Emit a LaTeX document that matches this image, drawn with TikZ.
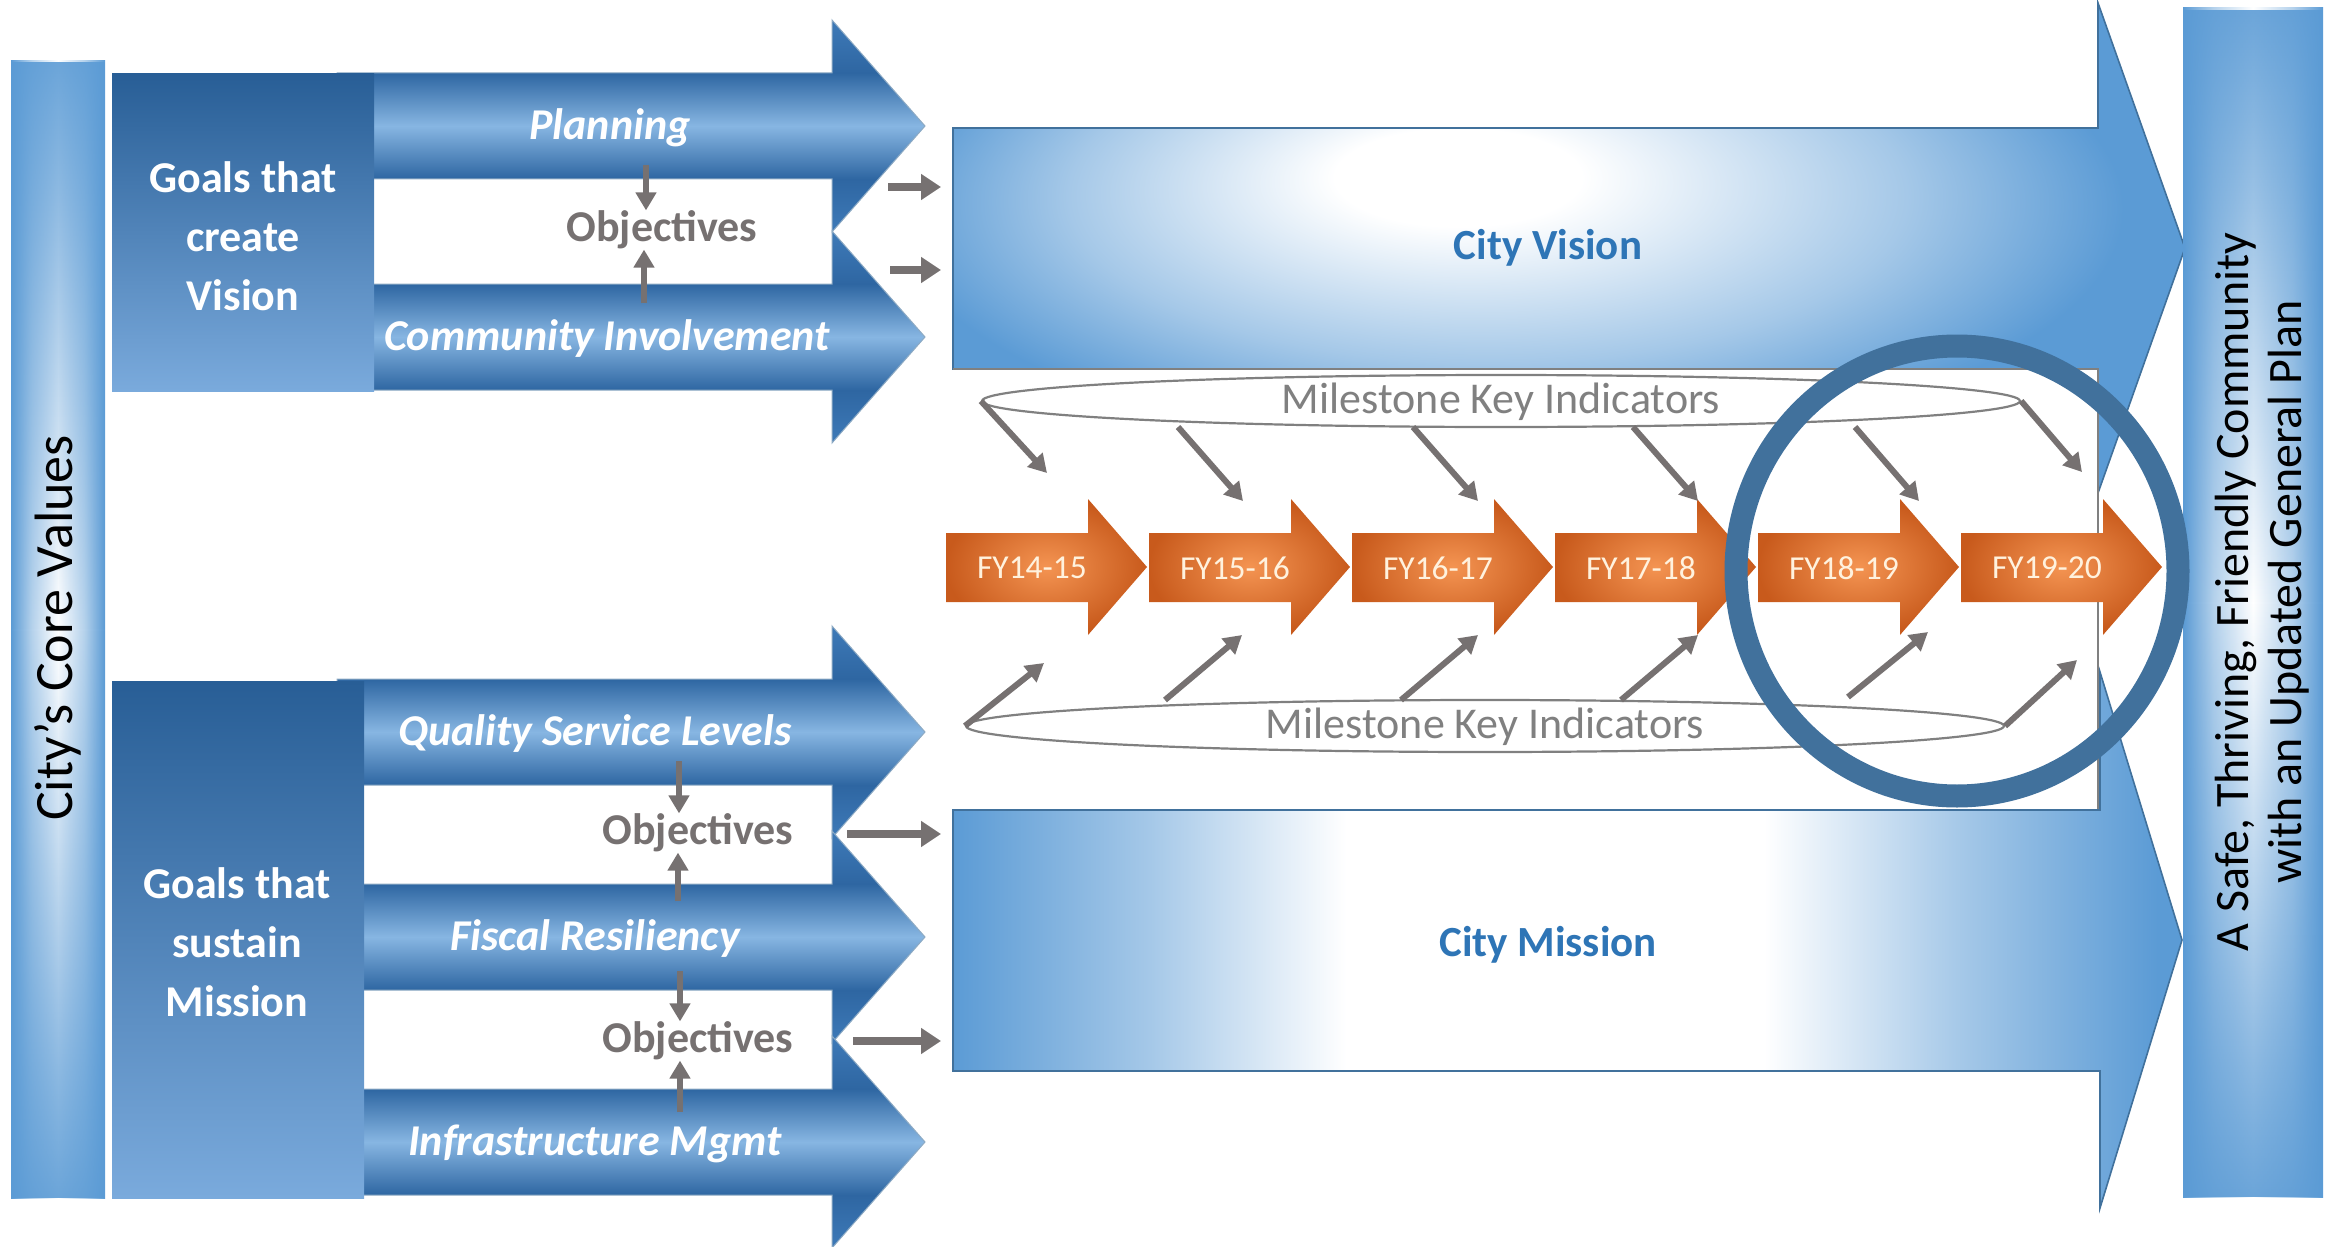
\documentclass[tikz,border=0pt]{standalone}
\usepackage{fontspec}
\setmainfont{Carlito}
\usetikzlibrary{arrows.meta,shapes.geometric,fadings}

\definecolor{cvblue}{RGB}{91,155,213}
\definecolor{boxdark}{RGB}{40,94,150}
\definecolor{boxlight}{RGB}{122,170,220}
\definecolor{goaldark}{RGB}{46,102,162}
\definecolor{goalmid}{RGB}{62,122,184}
\definecolor{goallight}{RGB}{135,182,226}
\definecolor{edgeblue}{RGB}{65,113,156}
\definecolor{citytext}{RGB}{46,117,182}
\definecolor{linkgray}{RGB}{118,113,113}
\definecolor{mkigray}{RGB}{128,128,128}
\definecolor{fydark}{RGB}{200,90,28}
\definecolor{fylight}{RGB}{244,148,82}
\definecolor{fycream}{RGB}{255,242,222}

\pgfdeclarehorizontalshading{barshade}{100bp}{color(0bp)=(cvblue); color(25bp)=(cvblue); color(36bp)=(cvblue!45!white); color(50bp)=(white); color(64bp)=(cvblue!45!white); color(75bp)=(cvblue); color(100bp)=(cvblue)}
\pgfdeclarehorizontalshading{missionshade}{100bp}{color(0bp)=(cvblue); color(25bp)=(cvblue); color(33bp)=(cvblue!55!white); color(41bp)=(white); color(58bp)=(white); color(66bp)=(cvblue!55!white); color(74bp)=(cvblue); color(100bp)=(cvblue)}
\pgfdeclareradialshading{visionshade}{\pgfpoint{-5bp}{8bp}}{color(0bp)=(white); color(5bp)=(white); color(17bp)=(cvblue!55!white); color(25bp)=(cvblue); color(50bp)=(cvblue)}
\pgfdeclareverticalshading{goalshade}{100bp}{color(0bp)=(goalmid); color(25bp)=(goalmid); color(37.5bp)=(goaldark); color(50bp)=(goallight); color(62.5bp)=(goaldark); color(75bp)=(goalmid); color(100bp)=(goalmid)}
\tikzfading[name=barfade, top color=transparent!10, bottom color=transparent!10, middle color=transparent!100]

\tikzset{
  goaltext/.style={text=white, font=\bfseries\fontsize{22}{29.5}\selectfont, align=center, inner sep=0pt},
  goallabel/.style={text=white, font=\bfseries\itshape\fontsize{22}{26}\selectfont, inner sep=0pt},
  objtext/.style={text=linkgray, font=\bfseries\fontsize{22}{26}\selectfont, inner sep=0pt},
  citylabel/.style={text=citytext, font=\bfseries\fontsize{21.5}{26}\selectfont, inner sep=0pt},
  bartext/.style={rotate=90, text=black, inner sep=0pt, align=center},
  goalarrow/.style={shading=goalshade, draw=edgeblue!60, line width=0.5pt},
  bigarrow/.style={draw=edgeblue, line width=0.8pt},
  framegray/.style={draw=mkigray, line width=1pt},
  fyarrow/.style={inner color=fylight, outer color=fydark},
  fytext/.style={text=fycream, font=\fontsize{16.75}{20}\selectfont, inner sep=0pt},
  mkiring/.style={ellipse, draw=mkigray, line width=1.1pt, fill=white, minimum width=519pt, minimum height=26pt, inner sep=0pt, text height=12pt, text depth=0pt, text=mkigray, font=\fontsize{22}{26}\selectfont},
  mkiarrow/.style={draw=linkgray, line width=3pt, -{Triangle[length=9pt,width=10pt]}},
  objarrow/.style={draw=linkgray, line width=3pt, -{Triangle[length=9pt,width=10pt]}},
  linkarrow/.style={draw=linkgray, line width=4pt, -{Triangle[length=10pt,width=12.5pt]}, shorten >=6pt},
  focusring/.style={ellipse, draw=edgeblue, line width=11.5pt, minimum width=221pt, minimum height=225pt, inner sep=0pt}
}

\begin{document}
\begin{tikzpicture}[x=0.5pt,y=-0.5pt]
\useasboundingbox (0,0) rectangle (2330,1247);

\shade[shading=barshade] (11,61) rectangle (105,1198);
\fill[cvblue, path fading=barfade] (11,61) rectangle (105,1198);
\node[bartext, font=\fontsize{27}{32}\selectfont] (values) at (58,628) {City’s Core Values};

\shadedraw[shading=visionshade, bigarrow] (953,128) -- (2098,128) -- (2098,3) -- (2185,248) -- (2098,493) -- (2098,369) -- (953,369) -- cycle;
\fill[white] (953,369) rectangle (2098,810);
\draw[framegray] (953,369) -- (2098,369) -- (2098,810) -- (953,810);
\shadedraw[shading=missionshade, bigarrow] (953,810) -- (2100,810) -- (2100,672) -- (2182,940) -- (2100,1208) -- (2100,1071) -- (953,1071) -- cycle;
\node[citylabel] (vision) at (1548,248) {City Vision};
\node[citylabel] (mission) at (1548,945) {City Mission};
\coordinate (visin) at (953,248);
\coordinate (misin) at (953,940);

\foreach \c/\tx/\lab/\nm in {126/610/Planning/plan, 337/607/Community Involvement/comm, 732/595/Quality Service Levels/qsl, 937/595/Fiscal Resiliency/fisc, 1142/595/Infrastructure Mgmt/infra}{
  \shadedraw[goalarrow] (337,\c-53) -- (832,\c-53) -- (832,\c-106) -- (925,\c) -- (832,\c+106) -- (832,\c+53) -- (337,\c+53) -- cycle;
  \node[goallabel] (\nm) at (\tx,\c+2) {\lab};
}

\shade[top color=boxdark, bottom color=boxlight] (112,74) rectangle (374,391);
\shade[top color=boxdark, bottom color=boxlight] (112,681) rectangle (364,1198);
\node[goaltext] (gvision) at (243,236) {Goals that\\create\\Vision};
\node[goaltext] (gmission) at (237,942) {Goals that\\sustain\\Mission};

\node[objtext] (obj1) at (662,230) {Objectives};
\node[objtext] (obj2) at (698,833) {Objectives};
\node[objtext] (obj3) at (698,1041) {Objectives};
\coordinate (p1) at (646,165);
\coordinate (c1) at (644,303);
\coordinate (q1) at (679,761);
\coordinate (f1) at (678,901);
\coordinate (f2) at (680,971);
\coordinate (i1) at (680,1112);
\draw[objarrow] (p1) -- (p1 |- obj1.north);
\draw[objarrow] (c1) -- (c1 |- obj1.south);
\draw[objarrow] (q1) -- (q1 |- obj2.north);
\draw[objarrow] (f1) -- (f1 |- obj2.south);
\draw[objarrow] (f2) -- (f2 |- obj3.north);
\draw[objarrow] (i1) -- (i1 |- obj3.south);

\coordinate (l1) at (888,187);
\coordinate (l2) at (890,270);
\coordinate (l3) at (847,834);
\coordinate (l4) at (853,1041);
\draw[linkarrow] (l1) -- (l1 -| visin);
\draw[linkarrow] (l2) -- (l2 -| visin);
\draw[linkarrow] (l3) -- (l3 -| misin);
\draw[linkarrow] (l4) -- (l4 -| misin);

\foreach \lab [count=\k] in {FY14-15,FY15-16,FY16-17,FY17-18,FY18-19,FY19-20}{
  \pgfmathsetmacro{\xo}{946+203*(\k-1)}
  \shade[fyarrow] (\xo,533) -- (\xo+142,533) -- (\xo+142,499) -- (\xo+201,567) -- (\xo+142,635) -- (\xo+142,602) -- (\xo,602) -- cycle;
  \node[fytext] (fy\k) at (\xo+86,568) {\lab};
}

\node[mkiring] (mkitop) at (1501,401) {Milestone Key Indicators};
\node[mkiring] (mkibot) at (1485,726) {Milestone Key Indicators};
\draw[mkiarrow] (mkitop.west) -- ([shift={(15,-95)}]fy1.center);
\draw[mkiarrow] ([shift={(-323,26)}]mkitop.center) -- ([shift={(8,-67)}]fy2.center);
\draw[mkiarrow] ([shift={(-88,26)}]mkitop.center) -- ([shift={(40,-67)}]fy3.center);
\draw[mkiarrow] ([shift={(132,26)}]mkitop.center) -- ([shift={(57,-67)}]fy4.center);
\draw[mkiarrow] ([shift={(354,26)}]mkitop.center) -- ([shift={(75,-67)}]fy5.center);
\draw[mkiarrow] (mkitop.east) -- ([shift={(35,-96)}]fy6.center);
\draw[mkiarrow] (mkibot.west) -- ([shift={(12,95)}]fy1.center);
\draw[mkiarrow] ([shift={(-320,-26)}]mkibot.center) -- ([shift={(7,67)}]fy2.center);
\draw[mkiarrow] ([shift={(-84,-26)}]mkibot.center) -- ([shift={(40,67)}]fy3.center);
\draw[mkiarrow] ([shift={(136,-26)}]mkibot.center) -- ([shift={(57,67)}]fy4.center);
\draw[mkiarrow] ([shift={(363,-29)}]mkibot.center) -- ([shift={(84,64)}]fy5.center);
\draw[mkiarrow] (mkibot.east) -- ([shift={(30,92)}]fy6.center);

\shade[shading=barshade] (2183,8) rectangle (2323,1197);
\fill[cvblue, path fading=barfade] (2183,8) rectangle (2323,1197);
\node[bartext, font=\fontsize{24}{26.5}\selectfont] (goal) at (2262,592) {A Safe, Thriving, Friendly Community\\with an Updated General Plan};

\node[focusring] (focus) at (1957,571) {};
\end{tikzpicture}
\end{document}
